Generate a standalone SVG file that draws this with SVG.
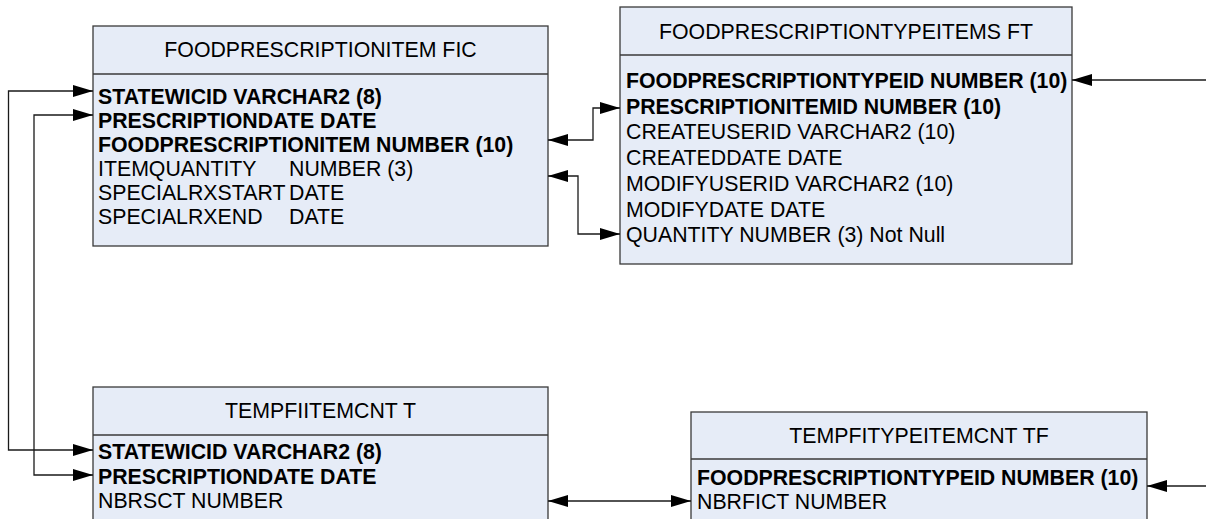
<svg xmlns="http://www.w3.org/2000/svg" width="1206" height="519" viewBox="0 0 1206 519">
<style>
.box{fill:#e6ecf7;stroke:#3a3a3a;stroke-width:1.3}
.div{stroke:#3a3a3a;stroke-width:1.3}
text{font-family:"Liberation Sans",Arial,sans-serif;font-size:21.3px;fill:#000}
.h{text-anchor:middle}
.b{font-weight:bold}
.c{fill:none;stroke:#1a1a1a;stroke-width:1.3}
</style>
<defs>
<marker id="ah" markerUnits="userSpaceOnUse" markerWidth="20" markerHeight="12" refX="20" refY="6" orient="auto-start-reverse" viewBox="0 0 20 12">
<path d="M0,0 L20,6 L0,12 z" fill="#000"/>
</marker>
</defs>
<rect width="1206" height="519" fill="#fff"/>
<g id="fic">
<rect class="box" x="93" y="26" width="455" height="220"/>
<line class="div" x1="93" y1="74" x2="548" y2="74"/>
<text class="h" x="320.5" y="57">FOODPRESCRIPTIONITEM FIC</text>
<text class="b" x="98" y="104">STATEWICID VARCHAR2 (8)</text>
<text class="b" x="98" y="128">PRESCRIPTIONDATE DATE</text>
<text class="b" x="98" y="152">FOODPRESCRIPTIONITEM NUMBER (10)</text>
<text x="98" y="176">ITEMQUANTITY</text><text x="289" y="176">NUMBER (3)</text>
<text x="98" y="200">SPECIALRXSTART</text><text x="289" y="200">DATE</text>
<text x="98" y="224">SPECIALRXEND</text><text x="289" y="224">DATE</text>
</g>
<g id="ft">
<rect class="box" x="620" y="7" width="452" height="257"/>
<line class="div" x1="620" y1="55" x2="1072" y2="55"/>
<text class="h" x="846" y="38.5">FOODPRESCRIPTIONTYPEITEMS FT</text>
<text class="b" x="626" y="88">FOODPRESCRIPTIONTYPEID NUMBER (10)</text>
<text class="b" x="626" y="113.7">PRESCRIPTIONITEMID NUMBER (10)</text>
<text x="626" y="139.4">CREATEUSERID VARCHAR2 (10)</text>
<text x="626" y="165.1">CREATEDDATE DATE</text>
<text x="626" y="190.8">MODIFYUSERID VARCHAR2 (10)</text>
<text x="626" y="216.5">MODIFYDATE DATE</text>
<text x="626" y="242.2">QUANTITY NUMBER (3) Not Null</text>
</g>
<g id="t">
<rect class="box" x="93" y="387" width="455" height="150"/>
<line class="div" x1="93" y1="435" x2="548" y2="435"/>
<text class="h" x="320.5" y="418">TEMPFIITEMCNT T</text>
<text class="b" x="98" y="459">STATEWICID VARCHAR2 (8)</text>
<text class="b" x="98" y="483.5">PRESCRIPTIONDATE DATE</text>
<text x="98" y="508">NBRSCT NUMBER</text>
</g>
<g id="tf">
<rect class="box" x="691" y="412" width="456" height="130"/>
<line class="div" x1="691" y1="459" x2="1147" y2="459"/>
<text class="h" x="919" y="443">TEMPFITYPEITEMCNT TF</text>
<text class="b" x="697" y="484.5">FOODPRESCRIPTIONTYPEID NUMBER (10)</text>
<text x="697" y="508.5">NBRFICT NUMBER</text>
</g>
<g id="connectors">
<polyline class="c" points="93,91 8.5,91 8.5,450 93,450" marker-start="url(#ah)" marker-end="url(#ah)"/>
<polyline class="c" points="93,115 34,115 34,475 93,475" marker-start="url(#ah)" marker-end="url(#ah)"/>
<polyline class="c" points="548,140 593,140 593,108 620,108" marker-start="url(#ah)" marker-end="url(#ah)"/>
<polyline class="c" points="548,176 578,176 578,234 620,234" marker-start="url(#ah)" marker-end="url(#ah)"/>
<line class="c" x1="1206" y1="80" x2="1072" y2="80" marker-end="url(#ah)"/>
<line class="c" x1="548" y1="501" x2="691" y2="501" marker-start="url(#ah)" marker-end="url(#ah)"/>
<line class="c" x1="1206" y1="486" x2="1147" y2="486" marker-end="url(#ah)"/>
</g>
</svg>
